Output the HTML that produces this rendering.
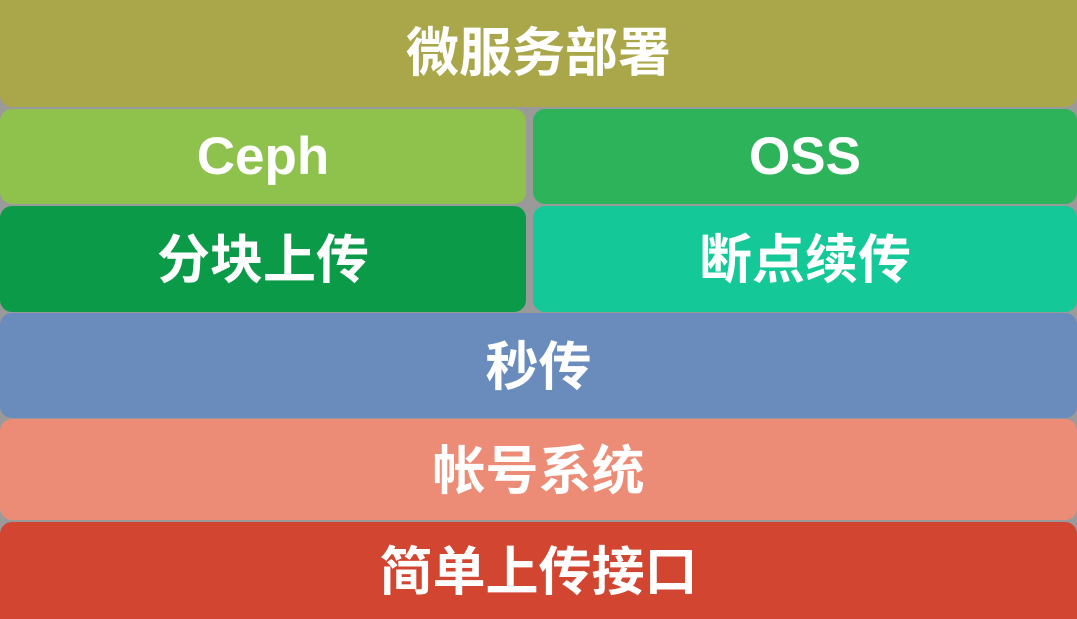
<!DOCTYPE html>
<html><head><meta charset="utf-8"><style>
html,body{margin:0;padding:0;width:1077px;height:619px;overflow:hidden;}
body{background:#9a9a9a;position:relative;font-family:"Liberation Sans","Noto Sans CJK SC",sans-serif;}
.b{position:absolute;border-radius:12px;color:#fff;font-weight:bold;display:flex;align-items:center;justify-content:center;font-size:53px;box-sizing:border-box;}
.c{padding-bottom:6px;}
</style></head><body>
<div class="b c" style="left:0;top:-12px;width:1077px;height:119px;background:#aaa64a;padding-top:8px;">微服务部署</div>
<div class="b" style="left:0;top:109px;width:526px;height:95px;background:#8fc14d;">Ceph</div>
<div class="b" style="left:533px;top:109px;width:544px;height:95px;background:#2db35a;">OSS</div>
<div class="b c" style="left:0;top:206px;width:526px;height:106px;background:#0b9a48;">分块上传</div>
<div class="b c" style="left:533px;top:206px;width:544px;height:106px;background:#14c898;">断点续传</div>
<div class="b c" style="left:0;top:313px;width:1077px;height:105px;background:#6a8cbd;">秒传</div>
<div class="b c" style="left:0;top:419px;width:1077px;height:101px;background:#ec8b76;">帐号系统</div>
<div class="b" style="left:0;top:522px;width:1077px;height:110px;background:#d24531;padding-bottom:18px;">简单上传接口</div>
</body></html>
